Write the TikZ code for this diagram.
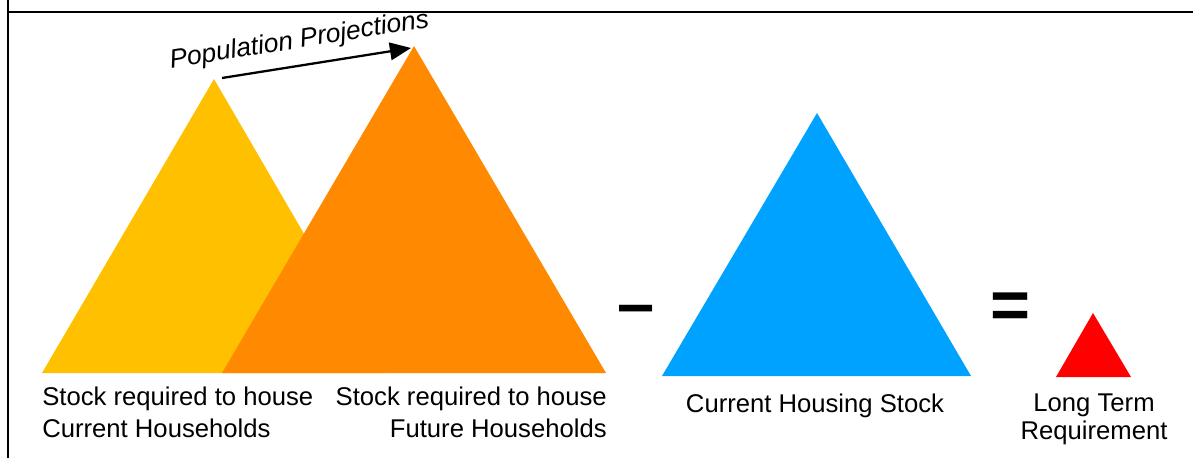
\documentclass[tikz,border=0pt]{standalone}
\usepackage{fontspec}
\setmainfont{Liberation Sans}
\usetikzlibrary{arrows.meta}

\definecolor{curyellow}{RGB}{255,192,0}
\definecolor{futorange}{RGB}{255,137,0}
\definecolor{stockblue}{RGB}{0,162,255}
\definecolor{reqred}{RGB}{255,0,0}

\begin{document}
\begin{tikzpicture}[x=0.02cm, y=0.02cm,
  lbl/.style={font=\fontsize{14.6}{18.2}\selectfont, inner sep=0pt},
  sign/.style={font=\bfseries\fontsize{38}{38}\selectfont, inner sep=0pt}]
\useasboundingbox (0,0) rectangle (1193,458);
% frame
\draw[line width=1.1pt] (8,0) -- (8,458);
\draw[line width=1.1pt] (8,446) -- (1193,446);
% triangles
\fill[curyellow] (42,85) -- (214,379) coordinate (curtop) -- (385,85) -- cycle;
\fill[futorange] (222,85) -- (414,412) coordinate (futtop) -- (606,85) -- cycle;
\fill[stockblue] (662,82) -- (817,345) coordinate (stocktop) -- (971,82) -- cycle;
\fill[reqred] (1056,81) -- (1093,145) coordinate (reqtop) -- (1131,81) -- cycle;
% projection arrow
\coordinate (projfrom) at (222,380);
\coordinate (projto) at (411,410);
\draw[line width=1.3pt, -{Triangle[length=12pt, width=10pt]}] (projfrom) -- (projto)
  node[pos=0.43, sloped, above=0.22cm, lbl, font=\itshape\fontsize{15}{18.2}\selectfont] (proj) {Population Projections};
% labels
\node[lbl, anchor=north west, align=left] (curlbl) at (42,71.5) {Stock required to house\\Current Households};
\node[lbl, anchor=north east, align=right] (futlbl) at (607,71.5) {Stock required to house\\Future Households};
\node[lbl, anchor=base] (stocklbl) at (815,46) {Current Housing Stock};
\node[lbl, anchor=north, align=center, font=\fontsize{14.6}{15.9}\selectfont] (reqlbl) at (1094,64.5) {Long Term\\Requirement};
% signs
\node[sign, anchor=base west] (minus) at (617,132) {–};
\node[sign, anchor=base west, font=\bfseries\fontsize{39}{39}\selectfont] (equals) at (990,130) {=};
\end{tikzpicture}
\end{document}
